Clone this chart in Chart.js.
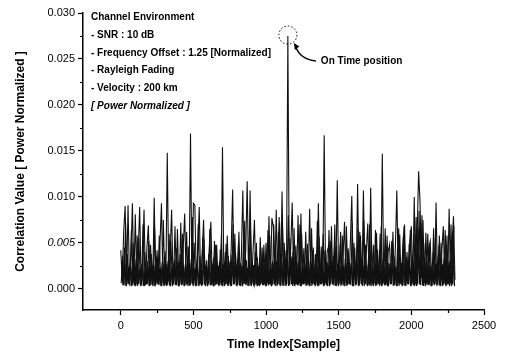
<!DOCTYPE html>
<html><head><meta charset="utf-8">
<script src="https://cdn.jsdelivr.net/npm/chart.js@4/dist/chart.umd.min.js"></script>
<style>html,body{margin:0;padding:0;background:#fff}#wrap{width:505px;height:358px}</style>
</head><body><div id="wrap"><canvas id="c" width="505" height="358"></canvas></div>
<script>
// ---- data ----
const sampleStep = 10;
// main trace: samples 0, 10, 20, ... 2300
const sampleStart = 0;
const corr = [
0.0042,0.0009,0.0062,0.0090,0.0007,0.0091,0.0005,0.0035,0.0093,0.0006,
0.0081,0.0005,0.0040,0.0089,0.0006,0.0030,0.0086,0.0004,0.0045,0.0069,
0.0006,0.0038,0.0005,0.0099,0.0007,0.0042,0.0005,0.0050,0.0093,0.0006,
0.0036,0.0004,0.0148,0.0008,0.0040,0.0086,0.0005,0.0032,0.0006,0.0065,
0.0005,0.0038,0.0004,0.0046,0.0082,0.0006,0.0035,0.0005,0.0169,0.0007,
0.0093,0.0091,0.0006,0.0042,0.0089,0.0005,0.0038,0.0075,0.0004,0.0031,
0.0005,0.0044,0.0073,0.0006,0.0034,0.0004,0.0048,0.0005,0.0030,0.0006,
0.0154,0.0007,0.0040,0.0005,0.0036,0.0006,0.0045,0.0108,0.0005,0.0039,
0.0006,0.0050,0.0004,0.0036,0.0107,0.0006,0.0042,0.0117,0.0005,0.0107,
0.0006,0.0040,0.0075,0.0005,0.0034,0.0004,0.0056,0.0006,0.0030,0.0005,
0.0050,0.0006,0.0079,0.0005,0.0077,0.0068,0.0005,0.0086,0.0006,0.0078,
0.0005,0.0106,0.0006,0.0042,0.0005,0.0275,0.0007,0.0045,0.0094,0.0005,
0.0040,0.0005,0.0080,0.0006,0.0082,0.0005,0.0044,0.0006,0.0036,0.0005,
0.0087,0.0006,0.0042,0.0005,0.0038,0.0006,0.0093,0.0005,0.0046,0.0006,
0.0167,0.0006,0.0040,0.0046,0.0005,0.0068,0.0006,0.0044,0.0005,0.0118,
0.0006,0.0048,0.0005,0.0036,0.0073,0.0006,0.0042,0.0005,0.0050,0.0101,
0.0006,0.0045,0.0005,0.0114,0.0006,0.0058,0.0005,0.0107,0.0006,0.0040,
0.0071,0.0005,0.0110,0.0006,0.0048,0.0005,0.0061,0.0006,0.0042,0.0005,
0.0147,0.0006,0.0066,0.0005,0.0040,0.0048,0.0006,0.0036,0.0005,0.0045,
0.0107,0.0006,0.0059,0.0005,0.0042,0.0068,0.0006,0.0040,0.0005,0.0052,
0.0068,0.0006,0.0100,0.0005,0.0060,0.0128,0.0093,0.0012,0.0075,0.0006,
0.0061,0.0005,0.0045,0.0052,0.0006,0.0040,0.0005,0.0094,0.0006,0.0048,
0.0005,0.0042,0.0068,0.0006,0.0046,0.0005,0.0087,0.0006,0.0050,0.0079,
0.0010
];
// in-between samples 3, 13, 23, ... 2293
const midStart = 3;
const midCorr = [
0.0006,0.0036,0.0004,0.0072,0.0005,0.0024,0.0003,0.0064,0.0004,0.0028,
0.0003,0.0058,0.0005,0.0022,0.0004,0.0070,0.0003,0.0026,0.0005,0.0052,
0.0004,0.0025,0.0003,0.0066,0.0005,0.0030,0.0004,0.0023,0.0003,0.0075,
0.0005,0.0027,0.0004,0.0060,0.0003,0.0024,0.0005,0.0068,0.0004,0.0029,
0.0003,0.0072,0.0005,0.0025,0.0004,0.0062,0.0003,0.0028,0.0005,0.0078,
0.0004,0.0023,0.0003,0.0070,0.0005,0.0026,0.0004,0.0054,0.0003,0.0024,
0.0005,0.0065,0.0004,0.0027,0.0003,0.0048,0.0005,0.0025,0.0004,0.0060,
0.0003,0.0024,0.0005,0.0058,0.0004,0.0028,0.0003,0.0070,0.0005,0.0026,
0.0004,0.0062,0.0003,0.0025,0.0005,0.0074,0.0004,0.0023,0.0003,0.0066,
0.0005,0.0026,0.0004,0.0050,0.0003,0.0024,0.0005,0.0045,0.0004,0.0027,
0.0003,0.0064,0.0005,0.0028,0.0004,0.0070,0.0003,0.0030,0.0005,0.0072,
0.0004,0.0068,0.0003,0.0032,0.0005,0.0080,0.0004,0.0035,0.0003,0.0066,
0.0005,0.0028,0.0004,0.0070,0.0003,0.0026,0.0005,0.0062,0.0004,0.0030,
0.0003,0.0066,0.0005,0.0025,0.0004,0.0074,0.0003,0.0028,0.0005,0.0060,
0.0004,0.0026,0.0003,0.0064,0.0005,0.0029,0.0004,0.0070,0.0003,0.0027,
0.0005,0.0062,0.0004,0.0025,0.0003,0.0068,0.0005,0.0028,0.0004,0.0072,
0.0003,0.0027,0.0005,0.0066,0.0004,0.0030,0.0003,0.0074,0.0005,0.0026,
0.0004,0.0070,0.0003,0.0028,0.0005,0.0064,0.0004,0.0025,0.0003,0.0068,
0.0005,0.0026,0.0004,0.0058,0.0003,0.0027,0.0005,0.0062,0.0004,0.0024,
0.0003,0.0066,0.0005,0.0028,0.0004,0.0070,0.0003,0.0026,0.0005,0.0064,
0.0004,0.0030,0.0003,0.0078,0.0005,0.0085,0.0004,0.0080,0.0003,0.0034,
0.0005,0.0060,0.0004,0.0026,0.0003,0.0066,0.0005,0.0028,0.0004,0.0058,
0.0003,0.0027,0.0005,0.0064,0.0004,0.0029,0.0003,0.0070,0.0005,0.0068
];
// in-between samples 5, 15, 25, ... 2295
const floorStart = 5;
const floorCorr = [
0.0030,0.0004,0.0045,0.0003,0.0038,0.0005,0.0028,0.0003,0.0050,0.0004,
0.0032,0.0003,0.0055,0.0004,0.0026,0.0003,0.0040,0.0005,0.0030,0.0003,
0.0048,0.0004,0.0027,0.0003,0.0035,0.0005,0.0058,0.0003,0.0029,0.0004,
0.0041,0.0003,0.0030,0.0005,0.0052,0.0003,0.0028,0.0004,0.0044,0.0003,
0.0030,0.0005,0.0060,0.0003,0.0027,0.0004,0.0046,0.0003,0.0032,0.0005,
0.0050,0.0003,0.0029,0.0004,0.0036,0.0003,0.0056,0.0005,0.0026,0.0003,
0.0038,0.0004,0.0031,0.0003,0.0052,0.0005,0.0028,0.0003,0.0043,0.0004,
0.0027,0.0003,0.0049,0.0004,0.0030,0.0003,0.0037,0.0005,0.0060,0.0003,
0.0033,0.0004,0.0028,0.0003,0.0055,0.0005,0.0031,0.0003,0.0045,0.0004,
0.0029,0.0003,0.0040,0.0005,0.0026,0.0003,0.0034,0.0004,0.0048,0.0003,
0.0036,0.0004,0.0058,0.0003,0.0030,0.0005,0.0044,0.0003,0.0062,0.0004,
0.0038,0.0003,0.0050,0.0004,0.0033,0.0003,0.0055,0.0005,0.0040,0.0003,
0.0047,0.0004,0.0030,0.0003,0.0060,0.0005,0.0034,0.0003,0.0049,0.0004,
0.0031,0.0003,0.0045,0.0004,0.0028,0.0003,0.0057,0.0005,0.0033,0.0003,
0.0042,0.0004,0.0029,0.0003,0.0052,0.0005,0.0036,0.0003,0.0047,0.0004,
0.0030,0.0003,0.0058,0.0004,0.0033,0.0003,0.0044,0.0005,0.0028,0.0003,
0.0050,0.0004,0.0037,0.0003,0.0062,0.0005,0.0031,0.0003,0.0048,0.0004,
0.0034,0.0003,0.0055,0.0004,0.0029,0.0003,0.0043,0.0005,0.0060,0.0003,
0.0032,0.0004,0.0047,0.0003,0.0028,0.0005,0.0052,0.0003,0.0035,0.0004,
0.0045,0.0003,0.0030,0.0004,0.0057,0.0003,0.0034,0.0005,0.0049,0.0003,
0.0037,0.0004,0.0060,0.0003,0.0066,0.0005,0.0072,0.0004,0.0050,0.0003,
0.0031,0.0004,0.0046,0.0003,0.0029,0.0005,0.0055,0.0003,0.0036,0.0004,
0.0050,0.0003,0.0033,0.0004,0.0058,0.0005,0.0030,0.0003,0.0062,0.0004
];
// in-between samples 8, 18, 28, ... 2298
const lowStart = 8;
const lowCorr = [
0.0022,0.0004,0.0028,0.0003,0.0020,0.0005,0.0026,0.0004,0.0018,0.0003,
0.0025,0.0005,0.0019,0.0003,0.0027,0.0004,0.0021,0.0005,0.0024,0.0003,
0.0018,0.0004,0.0026,0.0003,0.0020,0.0005,0.0023,0.0004,0.0027,0.0003,
0.0021,0.0005,0.0025,0.0003,0.0019,0.0004,0.0028,0.0005,0.0022,0.0003,
0.0026,0.0004,0.0018,0.0003,0.0024,0.0005,0.0020,0.0004,0.0027,0.0003,
0.0019,0.0005,0.0025,0.0003,0.0022,0.0004,0.0028,0.0005,0.0018,0.0003,
0.0024,0.0004,0.0020,0.0003,0.0027,0.0005,0.0019,0.0004,0.0025,0.0003,
0.0021,0.0005,0.0028,0.0003,0.0018,0.0004,0.0024,0.0005,0.0022,0.0003,
0.0027,0.0004,0.0019,0.0003,0.0025,0.0005,0.0021,0.0004,0.0028,0.0003,
0.0018,0.0005,0.0023,0.0003,0.0020,0.0004,0.0026,0.0005,0.0019,0.0003,
0.0025,0.0004,0.0022,0.0003,0.0028,0.0005,0.0020,0.0004,0.0026,0.0003,
0.0030,0.0005,0.0027,0.0003,0.0032,0.0004,0.0025,0.0005,0.0029,0.0003,
0.0022,0.0004,0.0028,0.0003,0.0019,0.0005,0.0026,0.0004,0.0021,0.0003,
0.0027,0.0005,0.0020,0.0003,0.0025,0.0004,0.0022,0.0005,0.0028,0.0003,
0.0019,0.0004,0.0026,0.0003,0.0021,0.0005,0.0027,0.0004,0.0020,0.0003,
0.0025,0.0005,0.0022,0.0003,0.0028,0.0004,0.0019,0.0005,0.0026,0.0003,
0.0021,0.0004,0.0027,0.0003,0.0020,0.0005,0.0025,0.0004,0.0022,0.0003,
0.0028,0.0005,0.0019,0.0003,0.0026,0.0004,0.0021,0.0005,0.0027,0.0003,
0.0020,0.0004,0.0025,0.0003,0.0022,0.0005,0.0028,0.0004,0.0019,0.0003,
0.0026,0.0005,0.0021,0.0003,0.0027,0.0004,0.0020,0.0005,0.0025,0.0003,
0.0030,0.0004,0.0034,0.0003,0.0038,0.0005,0.0036,0.0004,0.0028,0.0003,
0.0022,0.0005,0.0026,0.0003,0.0020,0.0004,0.0027,0.0005,0.0021,0.0003,
0.0025,0.0004,0.0019,0.0003,0.0028,0.0005,0.0022,0.0004,0.0026,0.0003
];
const xTicks = [0, 500, 1000, 1500, 2000, 2500];
const xMinorTicks = [250, 750, 1250, 1750, 2250];
const yTicks = [0, 0.005, 0.010, 0.015, 0.020, 0.025, 0.030];
const yMinorTicks = [0.0025, 0.0075, 0.0125, 0.0175, 0.0225, 0.0275];
const xRange = [-260, 2500];
const yRange = [-0.0023, 0.030];
const notes = ['Channel Environment', '- SNR : 10 dB', '- Frequency Offset : 1.25 [Normalized]', '- Rayleigh Fading', '- Velocity : 200 km', '[ Power Normalized ]'];
const peakLabel = 'On Time position';
const peakSample = 1150;
const peakMarkValue = 0.0276;
const xTitle = 'Time Index[Sample]';
const yTitle = 'Correlation Value [ Power Normalized ]';

// ---- build ----
const toPts = (arr, start) => arr.map((v, i) => ({x: start + i * sampleStep, y: v}));
const FAM = '"Liberation Sans", Arial, sans-serif';
const traceStyle = { borderColor: '#111', borderWidth: 1.1, pointRadius: 0, tension: 0, fill: false };

const extras = {
  id: 'extras',
  afterDraw(chart) {
    const ctx = chart.ctx, xs = chart.scales.x, ys = chart.scales.y, ca = chart.chartArea;
    ctx.save();
    ctx.strokeStyle = '#000'; ctx.lineWidth = 1.2;
    ctx.beginPath();
    xMinorTicks.forEach(v => { const p = Math.round(xs.getPixelForValue(v)) + 0.5; ctx.moveTo(p, ca.bottom); ctx.lineTo(p, ca.bottom + 3); });
    yMinorTicks.forEach(v => { const p = Math.round(ys.getPixelForValue(v)) + 0.5; ctx.moveTo(ca.left, p); ctx.lineTo(ca.left - 3, p); });
    ctx.stroke();
    ctx.fillStyle = '#000'; ctx.textBaseline = 'middle'; ctx.textAlign = 'left';
    notes.forEach((t, i) => {
      ctx.font = (i === notes.length - 1 ? 'italic ' : '') + 'bold 10px ' + FAM;
      ctx.fillText(t, ca.left + 8, ca.top + 4 + i * 17.9);
    });
    const cx = xs.getPixelForValue(peakSample), cy = ys.getPixelForValue(peakMarkValue);
    ctx.setLineDash([1.5, 2]); ctx.lineWidth = 1;
    ctx.beginPath(); ctx.arc(cx, cy, 9, 0, Math.PI * 2); ctx.stroke();
    ctx.setLineDash([]);
    const sx = cx + 28, sy = cy + 26, ex = cx + 6, ey = cy + 8;
    ctx.lineWidth = 1.4;
    ctx.beginPath(); ctx.moveTo(sx, sy); ctx.quadraticCurveTo(cx + 12, cy + 24, ex + 2, ey + 4); ctx.stroke();
    ctx.beginPath(); ctx.moveTo(ex, ey); ctx.lineTo(ex + 5.5, ey + 3.5); ctx.lineTo(ex + 1, ey + 7); ctx.closePath(); ctx.fill();
    ctx.font = 'bold 10px ' + FAM; ctx.textBaseline = 'middle';
    ctx.fillText(peakLabel, cx + 33, cy + 26);
    ctx.restore();
  }
};

new Chart(document.getElementById('c'), {
  type: 'line',
  data: { datasets: [
    Object.assign({ data: toPts(lowCorr, lowStart) }, traceStyle),
    Object.assign({ data: toPts(floorCorr, floorStart) }, traceStyle),
    Object.assign({ data: toPts(midCorr, midStart) }, traceStyle),
    Object.assign({ data: toPts(corr, sampleStart) }, traceStyle)
  ] },
  options: {
    responsive: false, animation: false, parsing: false,
    plugins: { legend: { display: false }, tooltip: { enabled: false } },
    layout: { padding: { top: 13, right: 21, left: 0, bottom: 0 } },
    scales: {
      x: {
        type: 'linear', min: xRange[0], max: xRange[1],
        afterBuildTicks: s => { s.ticks = xTicks.map(v => ({value: v})); },
        afterFit: s => { s.height = 48; },
        grid: { display: true, drawOnChartArea: false, drawTicks: true, tickLength: 5, color: '#000', tickWidth: 1.2 },
        border: { display: true, color: '#000', width: 1.5 },
        ticks: { color: '#000', font: { family: FAM, size: 11 }, padding: 4, maxRotation: 0, autoSkip: false, callback: v => String(v) },
        title: { display: true, text: xTitle, color: '#000', font: { family: FAM, size: 12, weight: 'bold' }, padding: { top: 0, bottom: 6 } }
      },
      y: {
        type: 'linear', min: yRange[0], max: yRange[1],
        afterBuildTicks: s => { s.ticks = yTicks.map(v => ({value: v})); },
        afterFit: s => { s.width = 83; },
        grid: { display: true, drawOnChartArea: false, drawTicks: true, tickLength: 5, color: '#000', tickWidth: 1.2 },
        border: { display: true, color: '#000', width: 1.5 },
        ticks: {
          color: '#000', padding: 3, autoSkip: false,
          font: c => ({ family: FAM, size: 11, style: (c.tick && Math.abs(c.tick.value - 0.005) < 1e-9) ? 'italic' : 'normal' }),
          callback: v => v.toFixed(3)
        },
        title: { display: true, text: yTitle, color: '#000', font: { family: FAM, size: 12, weight: 'bold' }, padding: { top: 13, bottom: 13 } }
      }
    }
  },
  plugins: [extras]
});
</script>
</body></html>
